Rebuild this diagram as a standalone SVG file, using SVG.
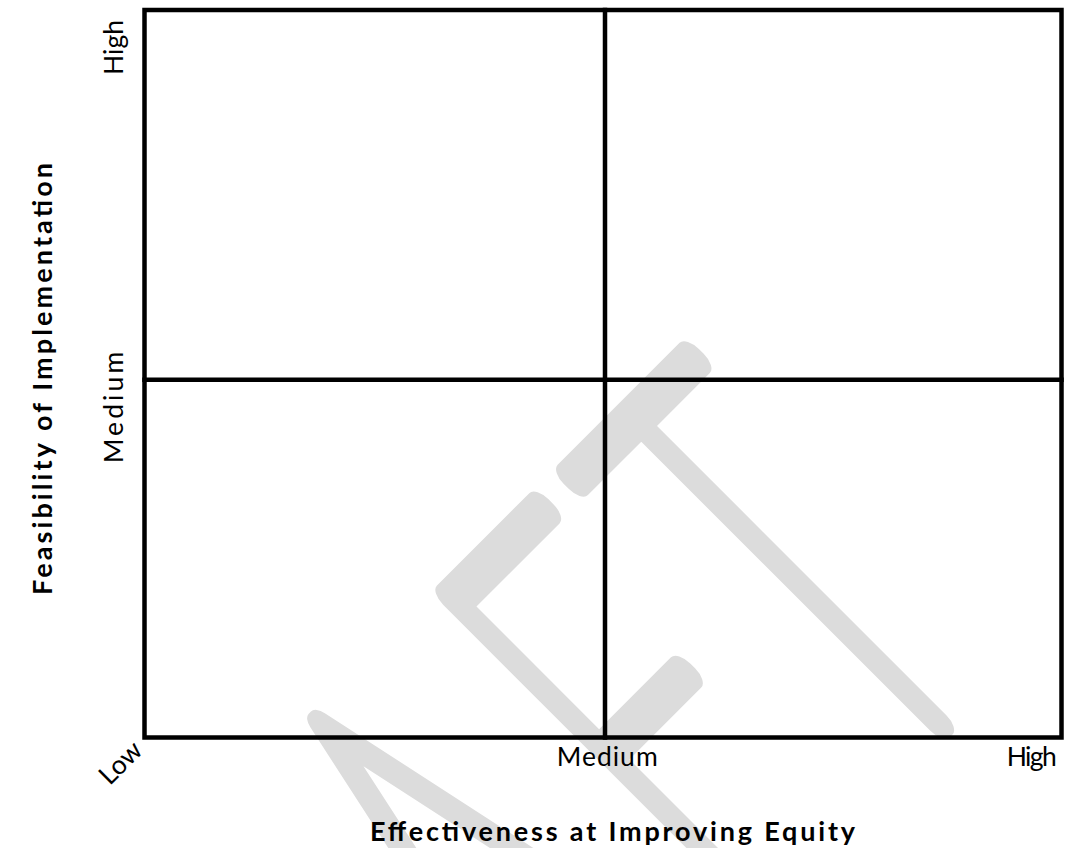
<svg xmlns="http://www.w3.org/2000/svg" width="1065" height="848" viewBox="0 0 1065 848">
  <style>
    .axis { font-family: Lato, "Liberation Sans", "DejaVu Sans", sans-serif; font-size: 26.5px; fill: #000; }
    .title { font-family: Lato, "Liberation Sans", "DejaVu Sans", sans-serif; font-weight: bold; font-size: 27px; fill: #000; }
    .grid { fill: none; stroke: #000; stroke-width: 4.5; stroke-linejoin: miter; stroke-linecap: square; }
    .mark { font-family: Lato, "Liberation Sans", "DejaVu Sans", sans-serif; font-size: 620px; font-weight: 100;
            fill: #dcdcdc; stroke: #dcdcdc; stroke-width: 36; stroke-linejoin: round; }
  </style>

  <rect width="1065" height="848" fill="#fff"/>

  <!-- diagonal DRAFT watermark: thin glyphs with a wide round-joined stroke -->
  <g id="watermark" transform="translate(830.8,830.8) rotate(-45) scale(0.515,1)">
    <text class="mark" vector-effect="non-scaling-stroke" text-anchor="middle"><tspan x="-1420" y="0">D</tspan><tspan x="-990" y="0">R</tspan><tspan x="-553" y="0">A</tspan><tspan x="-101" y="0">F</tspan><tspan x="295" y="0">T</tspan></text>
  </g>

  <!-- quadrant frame and dividers -->
  <g id="quadrants">
    <rect class="grid" x="144.5" y="10" width="917" height="727.5"/>
    <line class="grid" x1="605" y1="10" x2="605" y2="737.5"/>
    <line class="grid" x1="144.5" y1="379.7" x2="1061.5" y2="379.7"/>
  </g>

  <!-- horizontal axis labels -->
  <g id="x-axis">
    <text class="axis" transform="translate(144,752) rotate(-45)" text-anchor="end">Low</text>
    <text class="axis" x="556.7" y="765.7" textLength="101" lengthAdjust="spacing">Medium</text>
    <text class="axis" x="1006.7" y="765.7" textLength="50" lengthAdjust="spacing">High</text>
    <text class="title" x="370" y="841" textLength="485" lengthAdjust="spacing">Effectiveness at Improving Equity</text>
  </g>

  <!-- vertical axis labels -->
  <g id="y-axis">
    <text class="axis" transform="translate(123,75) rotate(-90)" textLength="55" lengthAdjust="spacing">High</text>
    <text class="axis" transform="translate(122.7,463.3) rotate(-90)" textLength="111.6" lengthAdjust="spacing">Medium</text>
    <text class="title" transform="translate(52,595) rotate(-90)" textLength="432" lengthAdjust="spacing">Feasibility of Implementation</text>
  </g>
</svg>
